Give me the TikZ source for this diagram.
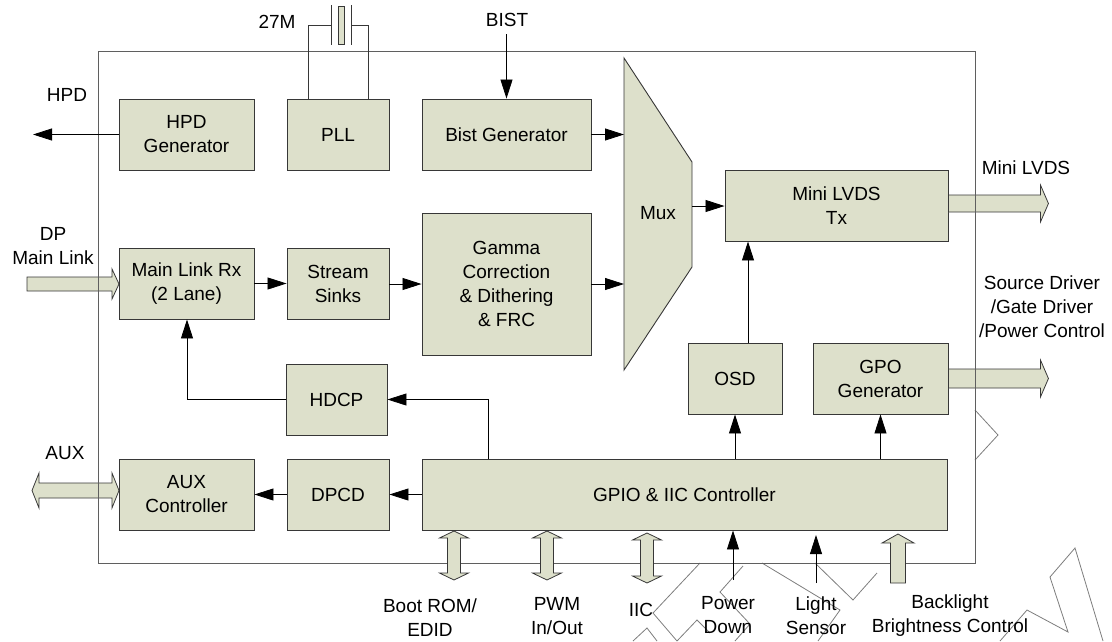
\documentclass[tikz,border=0pt]{standalone}
\usepackage{fontspec}
\setmainfont{Liberation Sans}
\usetikzlibrary{arrows.meta,calc}
\definecolor{boxfill}{RGB}{221,224,203}
\definecolor{edge}{RGB}{55,55,55}
\definecolor{chip}{RGB}{95,95,95}
\definecolor{wm}{RGB}{125,125,125}
\begin{document}
\begin{tikzpicture}[x=1pt,y=-1pt,
  font=\fontsize{19}{24}\selectfont,
  blk/.style={draw=edge, fill=boxfill, line width=0.9pt, align=center, inner sep=0pt},
  arr/.style={draw=black, line width=0.8pt, -{Triangle[length=19pt,width=12pt]}},
  wire/.style={draw=edge, line width=0.8pt},
  chipline/.style={draw=chip, line width=0.9pt},
  wmark/.style={draw=wm, line width=0.8pt, line join=miter},
  fatar/.style={draw=edge, fill=boxfill, line width=0.8pt, line join=miter},
  lbl/.style={align=center, inner sep=0pt},
  pics/fatone/.style n args={4}{code={%
    \draw[fatar] (0,-#2) -- ({#1-#4},-#2) -- ({#1-#4},-#3) -- (#1,0) -- ({#1-#4},#3) -- ({#1-#4},#2) -- (0,#2) -- cycle;}},
  pics/fattwo/.style n args={4}{code={%
    \draw[fatar] (0,0) -- (#4,-#3) -- (#4,-#2) -- ({#1-#4},-#2) -- ({#1-#4},-#3) -- (#1,0) -- ({#1-#4},#3) -- ({#1-#4},#2) -- (#4,#2) -- (#4,#3) -- cycle;}},
]
\useasboundingbox (0,0) rectangle (1112,641);

% ---------- faint watermark outline strokes ----------
\draw[wmark] (975,410) -- (998,435) -- (975,460);
\draw[wmark] (700,563) -- (653,613) -- (677,641);
\draw[wmark] (633,641) -- (647,628) -- (657,641);
\draw[wmark] (677,641) -- (697,620) -- (710,633);
\draw[wmark] (743,566) -- (720,592) -- (750,624) -- (735,641);
\draw[wmark] (762,563) -- (840,610) -- (818,641);
\draw[wmark] (815,563) -- (853,600) -- (877,573);
\draw[wmark] (1050,577) -- (1075,548) -- (1103,641);
\draw[wmark] (1050,577) -- (1068,632) -- (1027,610) -- (1000,641);

% ---------- blocks ----------
\node[blk, minimum width=135pt, minimum height=71pt] (hpd)   at (186.5,134.5) {HPD\\Generator};
\node[blk, minimum width=102pt, minimum height=71pt] (pll)   at (338,134.5)   {PLL};
\node[blk, minimum width=169pt, minimum height=71pt] (bist)  at (506.5,134.5) {Bist Generator};
\node[blk, minimum width=135pt, minimum height=71pt] (mlrx)  at (186.5,283.5) {Main Link Rx\\(2 Lane)};
\node[blk, minimum width=102pt, minimum height=71pt] (sinks) at (338,283.5)   {Stream\\Sinks};
\node[blk, minimum width=169pt, minimum height=142pt] (gamma) at (506.5,284)  {Gamma\\Correction\\\& Dithering\\\& FRC};
\node[blk, minimum width=223pt, minimum height=71pt] (mlvds) at (836.5,205.5) {Mini LVDS\\Tx};
\node[blk, minimum width=94pt,  minimum height=71pt] (osd)   at (735,378.5)   {OSD};
\node[blk, minimum width=135pt, minimum height=71pt] (gpo)   at (880.5,378.5) {GPO\\Generator};
\node[blk, minimum width=101pt, minimum height=71pt] (hdcp)  at (336.5,399.5) {HDCP};
\node[blk, minimum width=135pt, minimum height=71pt] (aux)   at (186.5,494.5) {AUX\\Controller};
\node[blk, minimum width=102pt, minimum height=71pt] (dpcd)  at (338,494.5)   {DPCD};
\node[blk, minimum width=525pt, minimum height=71pt] (gpio)  at (684.5,494.5) {GPIO \& IIC Controller};

% Mux
\draw[blk] (624,58) -- (692,162) -- (692,267) -- (624,370) -- cycle;
\node[lbl] (mux) at (658,213) {Mux};
\coordinate (muxL) at (624,0);
\coordinate (muxR) at (692,206);

% ---------- left / right fat arrows (under the chip outline) ----------
\pic at (27,284) {fatone={92}{7}{15}{7}};
\pic at (32,490.5) {fattwo={87}{7.5}{17.5}{7}};
\pic at (mlvds.east |- 0,203.5) {fatone={100}{8.5}{18.5}{8}};
\pic at (gpo.east) {fatone={100}{9.5}{18.5}{8}};

% chip outline
\draw[chipline] (98,51) rectangle (975,563);

% ---------- bottom fat arrows (over the chip outline) ----------
\pic[rotate=90] at (454,580) {fattwo={49}{6.5}{14.5}{7}};
\pic[rotate=90] at (547,580) {fattwo={49}{6.5}{14.5}{7}};
\pic[rotate=90] at (647,583) {fattwo={50}{6.5}{14.5}{7}};
\pic[rotate=90] at (898,583) {fatone={49}{7.5}{16}{9}};

% ---------- crystal ----------
\coordinate (xl) at (331,25);
\coordinate (xr) at (351,25);
\draw[wire] ([xshift=-30pt]pll.north) |- (xl);
\draw[wire] ([xshift=30pt]pll.north) |- (xr);
\draw[wire] (331,5) -- (331,45);
\draw[wire] (351,5) -- (351,45);
\draw[wire, fill=boxfill] (338,6) rectangle (344,44);

% ---------- connectors ----------
\coordinate (hpdout) at (33,134.5);
\draw[arr] (hpd.west) -- (hpdout);
\coordinate (bistin) at (506.5,34);
\draw[arr] (bistin) -- (bist.north);
\draw[arr] (bist.east) -- (bist.east -| muxL);
\draw[arr] (gamma.east) -- (gamma.east -| muxL);
\draw[arr] (muxR) -- (muxR -| mlvds.west);
\draw[arr] (mlrx.east) -- (sinks.west);
\draw[arr] (sinks.east |- 0,284) -- (gamma.west);
\coordinate (osdx) at (748,0);
\draw[arr] (osd.north -| osdx) -- (mlvds.south -| osdx);
\draw[arr] (gpio.north -| osd.north) -- (osd.south);
\draw[arr] (gpio.north -| gpo.north) -- (gpo.south);
\coordinate (hx) at (488,0);
\draw[arr] (gpio.north -| hx) |- (hdcp.east);
\coordinate (mx) at (187,0);
\draw[arr] (hdcp.west) -| (mlrx.south -| mx);
\draw[arr] (gpio.west) -- (dpcd.east);
\draw[arr] (dpcd.west) -- (aux.east);
\coordinate (pd) at (733,580);
\draw[arr] (pd) -- (pd |- gpio.south);
\coordinate (ls) at (816,583);
\coordinate (lsend) at (816,535);
\draw[arr] (ls) -- (lsend);

% ---------- labels ----------
\node[lbl] (l27) at (277,22) {27M};
\node[lbl] (lbist) at (507,20) {BIST};
\node[lbl] (lhpd) at (67,95) {HPD};
\node[lbl] (ldp) at (53,246.5) {DP\\Main Link};
\node[lbl] (laux) at (65,453) {AUX};
\node[lbl] (lmlvds) at (1026,168) {Mini LVDS};
\node[lbl] (lsrc) at (1042,307) {Source Driver\\/Gate Driver\\/Power Control};
\node[lbl] (lboot) at (430,617.5) {Boot ROM/\\EDID};
\node[lbl] (lpwm) at (557,616.5) {PWM\\In/Out};
\node[lbl] (liic) at (641,610) {IIC};
\node[lbl] (lpd) at (728,615.5) {Power\\Down};
\node[lbl] (lls) at (816,615.5) {Light\\Sensor};
\node[lbl] (lbl) at (950,615.5) {Backlight\\Brightness Control};
\end{tikzpicture}
\end{document}
